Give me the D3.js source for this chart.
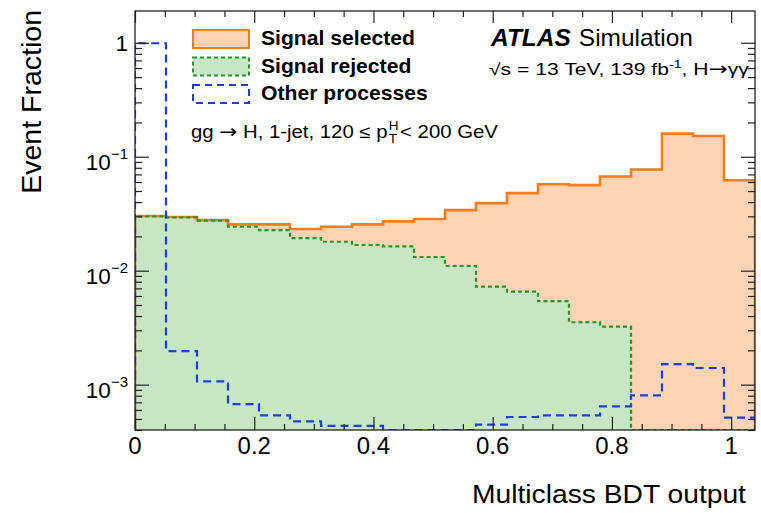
<!DOCTYPE html>
<html>
<head>
<meta charset="utf-8">
<script src="https://cdn.jsdelivr.net/npm/d3@7"></script>
<style>
  body { margin: 0; background: #fff; }
  text { font-family: "Liberation Sans", Arial, Helvetica, sans-serif; fill: #000; }
</style>
</head>
<body>
<svg id="chart" width="761" height="513"></svg>
<script>
// ---- data ----
const binEdges = [0, 0.052, 0.104, 0.156, 0.208, 0.26, 0.312, 0.364, 0.416, 0.468, 0.52,
                  0.572, 0.624, 0.676, 0.728, 0.78, 0.832, 0.884, 0.936, 0.988, 1.04];
const signalSelected = [0.0302, 0.0296, 0.0278, 0.0255, 0.0255, 0.0232, 0.0243, 0.0255, 0.0271, 0.0284,
                        0.0340, 0.0392, 0.0479, 0.0574, 0.0563, 0.0671, 0.0773, 0.1596, 0.152, 0.0622];
const signalRejected = [0.0300, 0.0294, 0.0275, 0.0243, 0.0227, 0.0193, 0.01795, 0.0168, 0.01636, 0.01318,
                        0.01099, 0.00724, 0.00655, 0.0054, 0.00353, 0.00323, 0, 0, 0, 0];
const otherProcesses = [0.99, 0.00197, 0.00107, 0.000676, 0.000537, 0.000476, 0.000434, 0.000434, 0.0004, 0.0004,
                        0.0004, 0.000446, 0.00052, 0.000537, 0.000537, 0.000644, 0.000804, 0.001515, 0.0014, 0.000513];
const xTickValues = [0, 0.2, 0.4, 0.6, 0.8, 1];
const xTickLabels = ["0", "0.2", "0.4", "0.6", "0.8", "1"];
const yTickValues = [1, 0.1, 0.01, 0.001];
const yTickBase = ["1", "10", "10", "10"];
const yTickExp = ["", "\u22121", "\u22122", "\u22123"];
const legendLabels = ["Signal selected", "Signal rejected", "Other processes"];

// ---- layout ----
const M = { left: 135, right: 755, top: 11, bottom: 430 };
const xDomain = [0, 1.04];
const yDomain = [4.0e-4, 1.9];

const col = {
  orange: "#f47e1c", peach: "#fdd3b6",
  green: "#249524", greenFill: "#c6e6c4",
  blue: "#1d3ee6", frame: "#222"
};

const svg = d3.select("#chart");
svg.append("rect").attr("width", 761).attr("height", 513).attr("fill", "#fff");

const x = d3.scaleLinear().domain(xDomain).range([M.left, M.right]);
const y = d3.scaleLog().domain(yDomain).range([M.bottom, M.top]).clamp(true);

svg.append("clipPath").attr("id", "clip")
  .append("rect").attr("x", M.left).attr("y", M.top)
  .attr("width", M.right - M.left).attr("height", M.bottom - M.top);

const plot = svg.append("g").attr("clip-path", "url(#clip)");

function stepPoints(vals) {
  const pts = [[binEdges[0], 0]];
  vals.forEach((v, i) => { pts.push([binEdges[i], v]); pts.push([binEdges[i + 1], v]); });
  pts.push([binEdges[binEdges.length - 1], 0]);
  return pts;
}
const yv = v => y(Math.max(v, yDomain[0] * 0.5));
const line = d3.line().x(d => x(d[0])).y(d => yv(d[1]));
const area = d3.area().x(d => x(d[0])).y0(M.bottom + 5).y1(d => yv(d[1]));

plot.append("path").datum(stepPoints(signalSelected)).attr("d", area).attr("fill", col.peach);
plot.append("path").datum(stepPoints(signalRejected)).attr("d", area).attr("fill", col.greenFill);
plot.append("path").datum(stepPoints(signalSelected)).attr("d", line)
  .attr("fill", "none").attr("stroke", col.orange).attr("stroke-width", 2.6);
plot.append("path").datum(stepPoints(signalRejected)).attr("d", line)
  .attr("fill", "none").attr("stroke", col.green).attr("stroke-width", 2.2).attr("stroke-dasharray", "4,3");
plot.append("path").datum(stepPoints(otherProcesses)).attr("d", line)
  .attr("fill", "none").attr("stroke", col.blue).attr("stroke-width", 2.2).attr("stroke-dasharray", "8,5");

// ---- axes (ticks inside, on all four sides) ----
const xMinor = d3.range(0, 1.0401, 0.05).filter(v => Math.abs(v / 0.2 - Math.round(v / 0.2)) > 1e-6);
const yMinor = [];
[-4, -3, -2, -1, 0].forEach(e => { for (let k = 2; k <= 9; k++) { const v = k * Math.pow(10, e); if (v >= yDomain[0] && v <= yDomain[1]) yMinor.push(v); } });

function styleAxis(g) {
  g.select(".domain").remove();
  g.selectAll("line").attr("stroke", col.frame).attr("stroke-width", 1.2);
  g.selectAll("text").remove();
}
svg.append("g").attr("transform", `translate(0,${M.bottom})`)
  .call(d3.axisBottom(x).tickValues(xTickValues).tickSize(-13)).call(styleAxis);
svg.append("g").attr("transform", `translate(0,${M.bottom})`)
  .call(d3.axisBottom(x).tickValues(xMinor).tickSize(-6)).call(styleAxis);
svg.append("g").attr("transform", `translate(0,${M.top})`)
  .call(d3.axisTop(x).tickValues(xTickValues).tickSize(-12)).call(styleAxis);
svg.append("g").attr("transform", `translate(0,${M.top})`)
  .call(d3.axisTop(x).tickValues(xMinor).tickSize(-6)).call(styleAxis);
svg.append("g").attr("transform", `translate(${M.left},0)`)
  .call(d3.axisLeft(y).tickValues(yTickValues).tickSize(-14)).call(styleAxis);
svg.append("g").attr("transform", `translate(${M.left},0)`)
  .call(d3.axisLeft(y).tickValues(yMinor).tickSize(-7)).call(styleAxis);
svg.append("g").attr("transform", `translate(${M.right},0)`)
  .call(d3.axisRight(y).tickValues(yTickValues).tickSize(-14)).call(styleAxis);
svg.append("g").attr("transform", `translate(${M.right},0)`)
  .call(d3.axisRight(y).tickValues(yMinor).tickSize(-7)).call(styleAxis);

svg.append("rect").attr("x", M.left).attr("y", M.top)
  .attr("width", M.right - M.left).attr("height", M.bottom - M.top)
  .attr("fill", "none").attr("stroke", col.frame).attr("stroke-width", 1.3);

// tick labels
xTickValues.forEach((v, i) => {
  svg.append("text").attr("x", x(v)).attr("y", 454).attr("text-anchor", "middle")
    .attr("font-size", 24).text(xTickLabels[i]);
});
yTickValues.forEach((v, i) => {
  const t = svg.append("text").attr("text-anchor", "end").attr("font-size", 22.5)
    .attr("x", 128).attr("y", y(v) + (yTickExp[i] ? 13 : 8));
  t.append("tspan").text(yTickBase[i]);
  if (yTickExp[i]) t.append("tspan").attr("font-size", 15).attr("dy", -11).text(yTickExp[i]);
});

// helper: stretch a text group horizontally so that it spans [x0, x1]
function stretch(g, x0, x1) {
  const bb = g.node().getBBox();
  const sx = (x1 - x0) / bb.width;
  g.attr("transform", `translate(${x0},0) scale(${sx},1) translate(${-bb.x},0)`);
}

// axis titles
svg.append("text").attr("transform", "translate(41,10) rotate(-90)")
  .attr("text-anchor", "end").attr("font-size", 28.5).text("Event Fraction");
const xt = svg.append("g");
xt.append("text").attr("x", 0).attr("y", 503).attr("font-size", 26).text("Multiclass BDT output");
stretch(xt, 472, 747);

// legend
const legendStyles = [
  { fill: col.peach, stroke: col.orange, dash: null, sw: 2 },
  { fill: col.greenFill, stroke: col.green, dash: "4,3", sw: 2 },
  { fill: "#fff", stroke: col.blue, dash: "7,5", sw: 2 }
];
const legTextEnds = [415, 405, 428];
legendLabels.forEach((lab, i) => {
  const yy = 30 + i * 27.5;
  const s = legendStyles[i];
  svg.append("rect").attr("x", 193).attr("y", yy).attr("width", 56).attr("height", 18)
    .attr("fill", s.fill).attr("stroke", s.stroke).attr("stroke-width", s.sw)
    .attr("stroke-dasharray", s.dash);
});
const legG = svg.append("g");
legendLabels.forEach((lab, i) => {
  legG.append("text").attr("x", 0).attr("y", 30 + i * 27.5 + 15.5).attr("font-size", 19.5)
    .attr("font-weight", "bold").text(lab);
});
stretch(legG, 261, 428);

// ATLAS label
const atl = svg.append("g");
atl.append("text").attr("x", 0).attr("y", 46).attr("font-size", 23)
  .attr("font-weight", "bold").attr("font-style", "italic").text("ATLAS");
const atlW = atl.node().getBBox().width;
atl.append("text").attr("x", atlW + 6).attr("y", 46).attr("font-size", 23).text("Simulation");
stretch(atl, 490, 693);

const lum = svg.append("g");
lum.append("text").attr("x", 0).attr("y", 75).attr("font-size", 16.5)
  .html('\u221As = 13 TeV, 139 fb<tspan dy="-7" font-size="11">-1</tspan><tspan dy="7">, H</tspan><tspan font-family="DejaVu Sans" font-size="18">\u2192</tspan><tspan>\u03B3\u03B3</tspan>');
stretch(lum, 489, 750);

// category text
const catG = svg.append("g");
const cat = catG.append("text").attr("x", 0).attr("y", 138).attr("font-size", 18)
  .html('gg <tspan font-family="DejaVu Sans" font-size="19">\u2192</tspan> H, 1-jet, 120 \u2264 p');
const L = cat.node().getComputedTextLength();
catG.append("text").attr("x", L + 1).attr("y", 130).attr("font-size", 12).text("H");
catG.append("text").attr("x", L + 1).attr("y", 143).attr("font-size", 12).text("T");
catG.append("text").attr("x", L + 11).attr("y", 138).attr("font-size", 18).text("< 200 GeV");
stretch(catG, 191, 498);
</script>
</body>
</html>
